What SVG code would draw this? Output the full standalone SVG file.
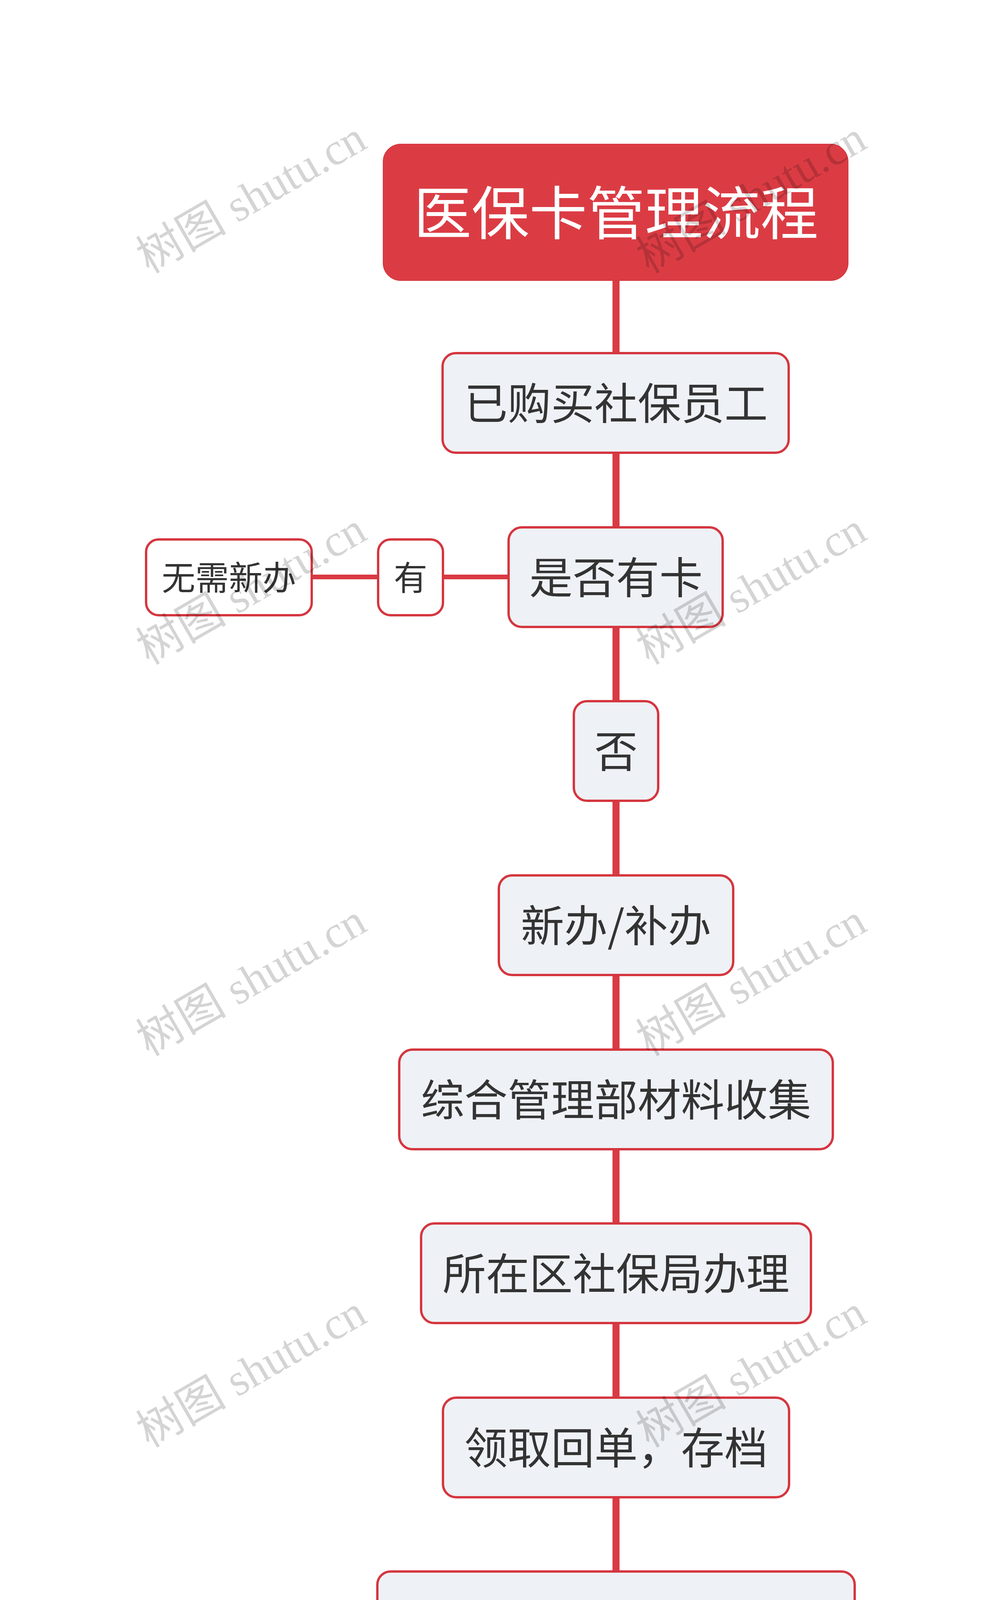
<svg xmlns="http://www.w3.org/2000/svg" width="2560" height="5541" viewBox="0 0 2560 5541">
<defs>
<style>
.bg{fill:#ffffff}
.link{stroke:#d93a43;fill:none}
.node rect{fill:#eef1f5;stroke:#d5363f;stroke-width:6}
.leaf rect{fill:#ffffff;stroke:#d5363f;stroke-width:6}
.root rect{fill:#db3c44;stroke:#d5363f;stroke-width:2}
.t{font-family:"Noto Sans CJK SC","Microsoft YaHei",sans-serif;fill:#333333;text-anchor:middle}
.tm{font-size:111px}
.ts{font-size:86px}
.tr{font-size:148px;fill:#ffffff}
.wm{font-family:"Liberation Serif","Noto Sans CJK SC",serif;font-size:116px;fill:#000000;fill-opacity:0.17;text-anchor:middle}
</style>
</defs>
<rect class="bg" x="0" y="0" width="2560" height="5541"/>
<g id="connectors">
<line class="link" x1="1577" y1="715" x2="1577" y2="4914" stroke-width="18"/>
<line class="link" x1="798" y1="1477" x2="1302" y2="1477" stroke-width="12"/>
</g>
<g id="root" class="root">
<rect x="981" y="369" width="1190" height="349" rx="45" ry="45"/>
<text class="t tr" x="1577" y="600">医保卡管理流程</text>
</g>
<g id="n1" class="node">
<rect x="1133" y="904" width="886" height="255" rx="34" ry="34"/>
<text class="t tm" x="1577" y="1074">已购买社保员工</text>
</g>
<g id="n2" class="node">
<rect x="1302" y="1350" width="548" height="255" rx="34" ry="34"/>
<text class="t tm" x="1577" y="1520">是否有卡</text>
</g>
<g id="n2a" class="leaf">
<rect x="968" y="1381" width="166" height="194" rx="32" ry="32"/>
<text class="t ts" x="1051" y="1511">有</text>
</g>
<g id="n2b" class="leaf">
<rect x="374" y="1381" width="424" height="194" rx="32" ry="32"/>
<text class="t ts" x="586" y="1511">无需新办</text>
</g>
<g id="n3" class="node">
<rect x="1469" y="1795" width="216" height="255" rx="34" ry="34"/>
<text class="t tm" x="1577" y="1965">否</text>
</g>
<g id="n4" class="node">
<rect x="1277" y="2241" width="600" height="255" rx="34" ry="34"/>
<text class="t tm" x="1577" y="2411">新办/补办</text>
</g>
<g id="n5" class="node">
<rect x="1022" y="2687" width="1110" height="255" rx="34" ry="34"/>
<text class="t tm" x="1577" y="2857">综合管理部材料收集</text>
</g>
<g id="n6" class="node">
<rect x="1078" y="3132" width="998" height="255" rx="34" ry="34"/>
<text class="t tm" x="1577" y="3302">所在区社保局办理</text>
</g>
<g id="n7" class="node">
<rect x="1134" y="3578" width="886" height="255" rx="34" ry="34"/>
<text class="t tm" x="1577" y="3748">领取回单，存档</text>
</g>
<g id="n8" class="node">
<rect x="966" y="4023" width="1222" height="255" rx="34" ry="34"/>
<text class="t tm" x="1577" y="4193">计入月度工资卡费代扣</text>
</g>
<g id="n9" class="node">
<rect x="1134" y="4469" width="886" height="255" rx="34" ry="34"/>
<text class="t tm" x="1577" y="4639">规定时间内领卡</text>
</g>
<g id="n10" class="node">
<rect x="1303" y="4914" width="548" height="255" rx="34" ry="34"/>
<text class="t tm" x="1577" y="5084">员工签收</text>
</g>
<g id="watermarks">
<text class="wm" transform="translate(644 506) rotate(-30)" x="0" y="38">树图 shutu.cn</text>
<text class="wm" transform="translate(1924 506) rotate(-30)" x="0" y="38">树图 shutu.cn</text>
<text class="wm" transform="translate(644 1508) rotate(-30)" x="0" y="38">树图 shutu.cn</text>
<text class="wm" transform="translate(1924 1508) rotate(-30)" x="0" y="38">树图 shutu.cn</text>
<text class="wm" transform="translate(644 2510) rotate(-30)" x="0" y="38">树图 shutu.cn</text>
<text class="wm" transform="translate(1924 2510) rotate(-30)" x="0" y="38">树图 shutu.cn</text>
<text class="wm" transform="translate(644 3512) rotate(-30)" x="0" y="38">树图 shutu.cn</text>
<text class="wm" transform="translate(1924 3512) rotate(-30)" x="0" y="38">树图 shutu.cn</text>
<text class="wm" transform="translate(644 4514) rotate(-30)" x="0" y="38">树图 shutu.cn</text>
<text class="wm" transform="translate(1924 4514) rotate(-30)" x="0" y="38">树图 shutu.cn</text>
<text class="wm" transform="translate(644 5516) rotate(-30)" x="0" y="38">树图 shutu.cn</text>
<text class="wm" transform="translate(1924 5516) rotate(-30)" x="0" y="38">树图 shutu.cn</text>
</g>
</svg>
